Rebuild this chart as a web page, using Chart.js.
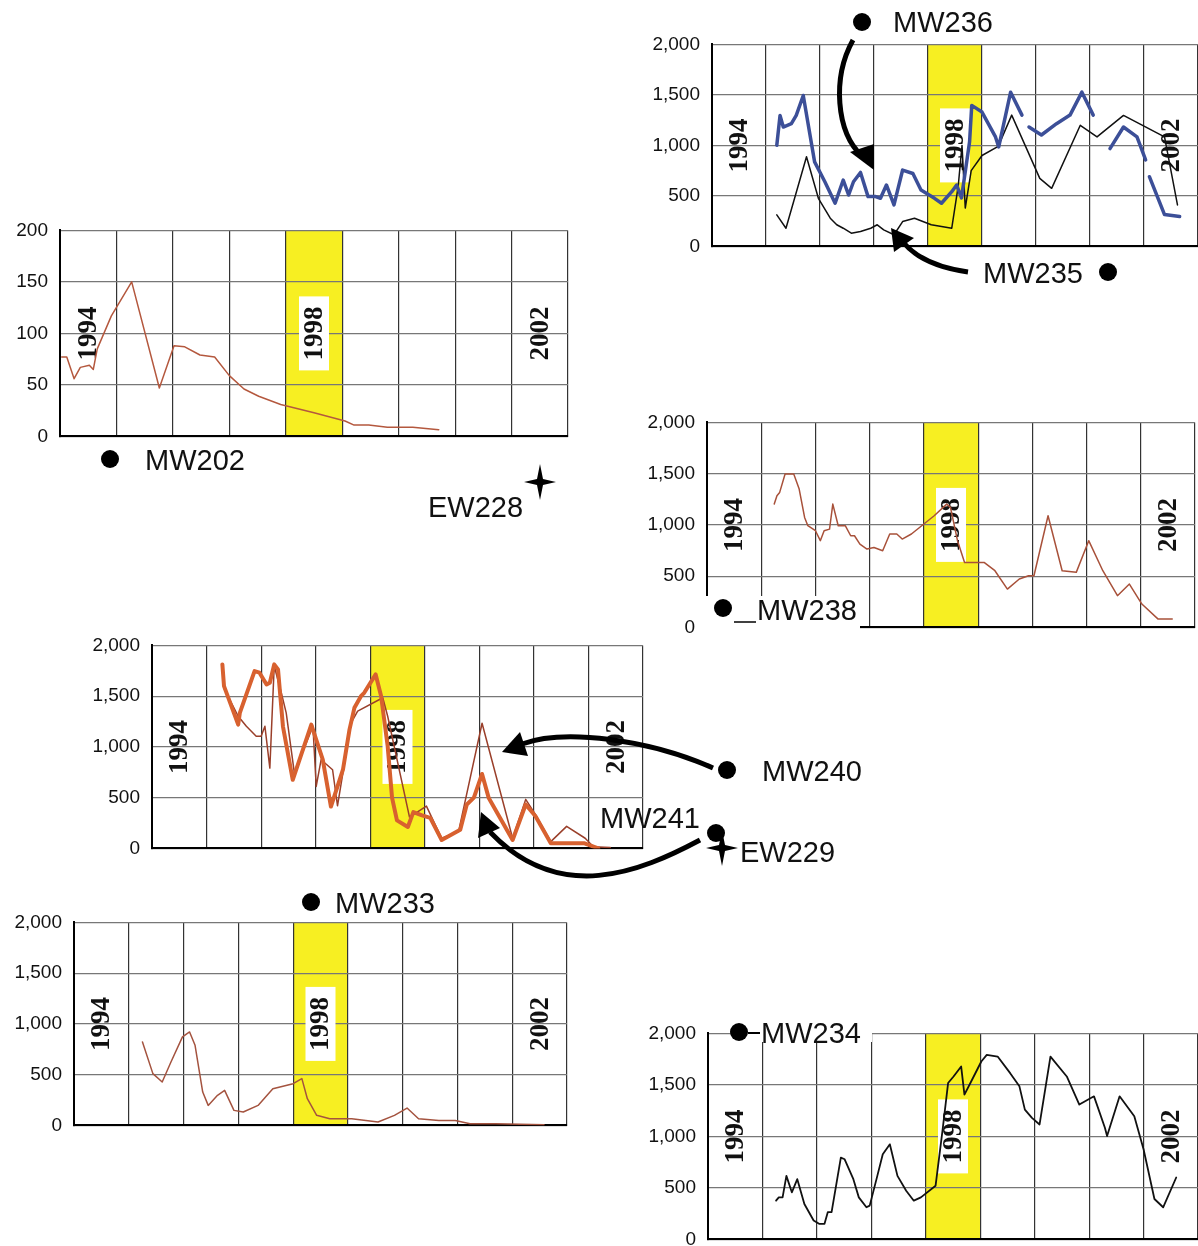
<!DOCTYPE html>
<html>
<head>
<meta charset="utf-8">
<script src="https://cdn.jsdelivr.net/npm/chart.js@4.4.1/dist/chart.umd.min.js"></script>
<style>
  html, body { margin: 0; padding: 0; background: #fff; }
  body { width: 1198px; height: 1246px; position: relative; overflow: hidden; font-family: "Liberation Sans", Arial, sans-serif; }
  .panel { position: absolute; }
  #overlay { position: absolute; left: 0; top: 0; z-index: 5; }
  #overlay text { font-family: "Liberation Sans", Arial, sans-serif; font-size: 29px; fill: #111; }
</style>
</head>
<body>
<svg id="overlay" width="1198" height="1246" viewBox="0 0 1198 1246">
  <!-- well labels -->
  <circle cx="862" cy="22" r="9" fill="#000"/>
  <text x="893" y="32">MW236</text>
  <text x="983" y="283">MW235</text>
  <circle cx="1108" cy="272" r="9" fill="#000"/>
  <circle cx="110" cy="459" r="9" fill="#000"/>
  <text x="145" y="470">MW202</text>
  <text x="428" y="517">EW228</text>
  <path d="M540 464 L543 479 L556 482 L543 485 L540 500 L537 485 L524 482 L537 479 Z" fill="#000"/>
  <rect x="703" y="596" width="157" height="34" fill="#fff"/>
  <circle cx="723" cy="608" r="9" fill="#000"/>
  <line x1="734" y1="622" x2="756" y2="622" stroke="#000" stroke-width="1.5"/>
  <text x="757" y="620">MW238</text>
  <circle cx="727" cy="770" r="9" fill="#000"/>
  <text x="762" y="781">MW240</text>
  <text x="600" y="828">MW241</text>
  <circle cx="716" cy="833" r="9" fill="#000"/>
  <path d="M722 830 L725 845 L738 848 L725 851 L722 866 L719 851 L706 848 L719 845 Z" fill="#000"/>
  <text x="740" y="862">EW229</text>
  <circle cx="311" cy="902" r="9" fill="#000"/>
  <text x="335" y="913">MW233</text>
  <rect x="731" y="1018" width="141" height="24" fill="#fff"/>
  <circle cx="739" cy="1032" r="9" fill="#000"/>
  <line x1="748" y1="1033" x2="760" y2="1033" stroke="#000" stroke-width="2"/>
  <text x="761" y="1043">MW234</text>
  <!-- arrows -->
  <path d="M853 40 C 832 78, 836 132, 862 156" fill="none" stroke="#000" stroke-width="5"/>
  <path d="M874 170 L850 152 L874 144 Z" fill="#000"/>
  <path d="M968 272 C 940 268, 916 258, 903 242" fill="none" stroke="#000" stroke-width="5"/>
  <path d="M891 228 L894 252 L914 238 Z" fill="#000"/>
  <path d="M713 768 C 650 740, 565 728, 522 744" fill="none" stroke="#000" stroke-width="5"/>
  <path d="M502 752 L520 732 L528 756 Z" fill="#000"/>
  <path d="M700 840 C 640 872, 560 905, 490 832" fill="none" stroke="#000" stroke-width="5"/>
  <path d="M481 812 L478 838 L500 828 Z" fill="#000"/>
</svg>

<script>
// ---- data (years as decimal, values in the chart units) ----
const yearLabels = [1994, 1998, 2002];
const bandStart = 1998;
const bandEnd = 1999;

const mw236Years = [1995.20, 1995.26, 1995.32, 1995.47, 1995.56, 1995.69, 1995.90, 1996.09, 1996.28, 1996.43, 1996.53, 1996.62, 1996.75, 1996.89, 1997.03, 1997.12, 1997.23, 1997.37, 1997.53, 1997.72, 1997.87, 1998.12, 1998.25, 1998.44, 1998.53, 1998.62, 1998.77, 1998.81, 1999.00, 1999.25, 1999.31, 1999.53, 1999.74, 1999.80, 1999.87, 2000.10, 2000.38, 2000.63, 2000.85, 2001.06, 2001.20, 2001.37, 2001.62, 2001.87, 2002.03, 2002.06, 2002.10, 2002.38, 2002.66];
const mw236Values = [1002, 1297, 1182, 1215, 1297, 1494, 837, 640, 427, 657, 509, 640, 732, 493, 493, 476, 608, 411, 756, 722, 559, 476, 427, 542, 608, 480, 1035, 1396, 1330, 1084, 985, 1527, 1300, null, 1182, 1103, 1215, 1300, 1527, 1300, null, 968, 1182, 1084, 857, null, 690, 315, 296];

const mw235Years = [1995.20, 1995.37, 1995.75, 1995.97, 1996.19, 1996.31, 1996.43, 1996.58, 1996.75, 1996.94, 1997.06, 1997.18, 1997.37, 1997.53, 1997.75, 1998.06, 1998.44, 1998.56, 1998.63, 1998.69, 1998.80, 1999.00, 1999.30, 1999.55, 2000.07, 2000.29, 2000.82, 2001.13, 2001.62, 2002.38, 2002.62];
const mw235Values = [312, 180, 887, 476, 279, 214, 180, 131, 148, 180, 214, 164, 115, 246, 279, 214, 180, 600, 1000, 380, 750, 900, 990, 1300, 673, 575, 1199, 1084, 1297, 1084, 411];

const mw202Years = [1994.03, 1994.12, 1994.25, 1994.36, 1994.52, 1994.59, 1994.66, 1994.91, 1995.27, 1995.76, 1996.02, 1996.21, 1996.48, 1996.74, 1997.00, 1997.26, 1997.52, 1997.91, 1998.50, 1999.05, 1999.21, 1999.47, 1999.80, 2000.25, 2000.71];
const mw202Values = [77, 77, 56, 67, 69, 65, 85, 117, 150, 47, 88, 87, 79, 77, 59, 46, 39, 31, 23, 15, 11, 11, 9, 9, 6.5];

const mw238Years = [1995.24, 1995.29, 1995.34, 1995.44, 1995.60, 1995.70, 1995.80, 1995.86, 1996.00, 1996.09, 1996.16, 1996.26, 1996.32, 1996.42, 1996.55, 1996.65, 1996.72, 1996.82, 1996.95, 1997.08, 1997.24, 1997.37, 1997.50, 1997.60, 1997.77, 1997.96, 1998.19, 1998.42, 1998.49, 1998.62, 1998.75, 1998.94, 1999.11, 1999.31, 1999.54, 1999.76, 1999.93, 2000.03, 2000.29, 2000.55, 2000.81, 2001.04, 2001.30, 2001.57, 2001.79, 2002.02, 2002.32, 2002.58];
const mw238Values = [1203, 1285, 1317, 1496, 1496, 1350, 1073, 992, 943, 846, 943, 959, 1203, 992, 992, 894, 894, 813, 764, 780, 748, 911, 911, 862, 911, 992, 1089, 1203, 1171, 846, 634, 634, 634, 553, 374, 472, 504, 504, 1089, 553, 537, 846, 553, 309, 423, 228, 81, 81];

const mw241Years = [1995.29, 1995.32, 1995.58, 1995.61, 1995.88, 1995.97, 1996.10, 1996.16, 1996.24, 1996.31, 1996.40, 1996.58, 1996.92, 1997.13, 1997.28, 1997.50, 1997.62, 1997.71, 1997.83, 1997.89, 1998.10, 1998.20, 1998.32, 1998.40, 1998.49, 1998.69, 1998.79, 1998.95, 1999.10, 1999.31, 1999.65, 1999.77, 1999.90, 2000.05, 2000.17, 2000.61, 2000.85, 2001.03, 2001.31, 2001.56, 2001.93, 2002.18];
const mw241Values = [1813, 1599, 1220, 1335, 1747, 1731, 1615, 1632, 1813, 1764, 1203, 676, 1220, 874, 412, 775, 1170, 1385, 1500, 1533, 1714, 1500, 1006, 500, 276, 211, 358, 325, 300, 83, 183, 433, 500, 733, 500, 83, 433, 317, 50, 50, 50, 0];

const mw240Years = [1995.29, 1995.33, 1995.58, 1995.73, 1995.91, 1996.00, 1996.07, 1996.16, 1996.24, 1996.37, 1996.46, 1996.61, 1996.95, 1997.01, 1997.10, 1997.31, 1997.40, 1997.65, 1997.77, 1998.23, 1998.32, 1998.72, 1999.03, 1999.31, 1999.62, 2000.05, 2000.61, 2000.85, 2001.03, 2001.31, 2001.60, 2001.94, 2002.09, 2002.40];
const mw240Values = [1797, 1566, 1302, 1203, 1105, 1105, 1203, 791, 1797, 1533, 1335, 742, 1203, 610, 874, 775, 420, 1236, 1352, 1484, 1302, 309, 417, 100, 167, 1233, 100, 483, 333, 67, 217, 100, 17, 10];

const mw233Years = [1995.25, 1995.44, 1995.61, 1995.77, 1995.98, 1996.11, 1996.21, 1996.35, 1996.45, 1996.62, 1996.75, 1996.92, 1997.09, 1997.36, 1997.63, 1998.00, 1998.16, 1998.26, 1998.43, 1998.67, 1999.07, 1999.55, 1999.85, 2000.08, 2000.29, 2000.66, 2000.96, 2001.23, 2001.70, 2002.58];
const mw233Values = [822, 510, 428, 625, 872, 921, 789, 329, 197, 296, 345, 148, 132, 197, 362, 411, 461, 263, 99, 66, 66, 33, 99, 171, 66, 49, 49, 16, 16, 7];

const mw234Years = [1995.25, 1995.30, 1995.37, 1995.44, 1995.54, 1995.64, 1995.77, 1995.94, 1996.04, 1996.14, 1996.20, 1996.27, 1996.44, 1996.51, 1996.67, 1996.77, 1996.91, 1996.97, 1997.11, 1997.21, 1997.34, 1997.48, 1997.64, 1997.78, 1997.91, 1998.18, 1998.31, 1998.41, 1998.51, 1998.65, 1998.71, 1998.85, 1999.02, 1999.12, 1999.32, 1999.55, 1999.72, 1999.82, 1999.95, 2000.09, 2000.29, 2000.59, 2000.82, 2001.09, 2001.29, 2001.33, 2001.56, 2001.83, 2002.00, 2002.20, 2002.36, 2002.60];
const mw234Values = [376, 408, 408, 617, 457, 585, 344, 183, 151, 151, 264, 264, 794, 778, 585, 408, 312, 328, 617, 826, 923, 617, 473, 376, 408, 521, 1068, 1518, 1582, 1678, 1405, 1550, 1727, 1791, 1775, 1614, 1486, 1260, 1180, 1116, 1775, 1582, 1309, 1389, 1084, 1003, 1389, 1196, 875, 392, 312, 601];

// ---- helpers ----
function points(years, values) {
  return years.map((x, i) => ({ x, y: values[i] }));
}

function series(label, years, values, color, width) {
  return {
    label,
    data: points(years, values),
    borderColor: color,
    borderWidth: width,
    pointRadius: 0,
    tension: 0,
    spanGaps: false,
    borderJoinStyle: "round",
    borderCapStyle: "round",
  };
}

const bandPlugin = {
  id: "bandAndYears",
  beforeDraw(chart) {
    const { ctx, chartArea, scales } = chart;
    const x0 = scales.x.getPixelForValue(bandStart);
    const x1 = scales.x.getPixelForValue(bandEnd);
    ctx.save();
    ctx.fillStyle = "#f7ef22";
    ctx.fillRect(x0, chartArea.top, x1 - x0, chartArea.bottom - chartArea.top);
    ctx.restore();
  },
  beforeDatasetsDraw(chart) {
    const { ctx, chartArea, scales } = chart;
    const cy = (chartArea.top + chartArea.bottom) / 2;
    ctx.save();
    ctx.font = "bold 27px 'Liberation Serif', 'Times New Roman', serif";
    ctx.textAlign = "center";
    ctx.textBaseline = "middle";
    yearLabels.forEach((yr) => {
      const cx = scales.x.getPixelForValue(yr + 0.5);
      ctx.save();
      ctx.translate(cx, cy);
      ctx.rotate(-Math.PI / 2);
      if (yr === bandStart) {
        ctx.fillStyle = "#fff";
        ctx.fillRect(-37, -15, 74, 30);
      }
      ctx.fillStyle = "#111";
      ctx.fillText(String(yr), 0, 1);
      ctx.restore();
    });
    ctx.restore();
  },
};

const overlay = document.getElementById("overlay");

function makeChart(box, yMax, yStep, datasets) {
  const padL = 80, padT = 14, padB = 14, padR = 2;
  const holder = document.createElement("div");
  holder.className = "panel";
  const place = (dt, db) => {
    holder.style.left = (box.left - padL) + "px";
    holder.style.top = (box.top - padT - dt) + "px";
    holder.style.width = (box.width + padL + padR) + "px";
    holder.style.height = (box.height + padT + padB + dt + db) + "px";
  };
  place(0, 0);
  const canvas = document.createElement("canvas");
  holder.appendChild(canvas);
  document.body.insertBefore(holder, overlay);

  const chart = new Chart(canvas, {
    type: "line",
    data: { datasets },
    options: {
      responsive: true,
      maintainAspectRatio: false,
      animation: false,
      layout: { padding: { top: padT, bottom: padB, right: padR, left: 0 } },
      plugins: { legend: { display: false }, tooltip: { enabled: false } },
      scales: {
        x: {
          type: "linear",
          min: 1994,
          max: 2003,
          ticks: { display: false, stepSize: 1 },
          grid: { color: "#333", lineWidth: 1.2, drawTicks: false },
          border: { color: "#000", width: 2 },
        },
        y: {
          min: 0,
          max: yMax,
          ticks: {
            stepSize: yStep,
            padding: 12,
            color: "#111",
            font: { family: "'Liberation Sans', Arial, sans-serif", size: 19 },
            callback: (v) => v.toLocaleString("en-US"),
          },
          grid: { color: "#777", lineWidth: 1.2, drawTicks: false },
          border: { color: "#000", width: 2 },
          afterFit: (scale) => { scale.width = padL; },
        },
      },
    },
    plugins: [bandPlugin],
  });

  // compensate for the extra room Chart.js keeps round the plot
  const ca = chart.chartArea;
  const dt = ca.top - padT;
  const db = (box.height + padT + padB) - ca.bottom - padB;
  place(dt, db);
  chart.resize();
  return chart;
}

// ---- panels ----
makeChart({ left: 712, top: 44, width: 486, height: 202 }, 2000, 500, [
  series("MW236", mw236Years, mw236Values, "#3c4f98", 3.5),
  series("MW235", mw235Years, mw235Values, "#111", 1.5),
]);

makeChart({ left: 60, top: 230, width: 508, height: 206 }, 200, 50, [
  series("MW202", mw202Years, mw202Values, "#b4583e", 1.5),
]);

makeChart({ left: 707, top: 422, width: 488, height: 205 }, 2000, 500, [
  series("MW238", mw238Years, mw238Values, "#a8513a", 1.5),
]);

makeChart({ left: 152, top: 645, width: 491, height: 203 }, 2000, 500, [
  series("MW241", mw241Years, mw241Values, "#d8612f", 4),
  series("MW240", mw240Years, mw240Values, "#9a3f2a", 1.5),
]);

makeChart({ left: 74, top: 922, width: 493, height: 203 }, 2000, 500, [
  series("MW233", mw233Years, mw233Values, "#a4533f", 1.5),
]);

makeChart({ left: 708, top: 1033, width: 490, height: 206 }, 2000, 500, [
  series("MW234", mw234Years, mw234Values, "#111", 1.8),
]);
</script>
</body>
</html>
